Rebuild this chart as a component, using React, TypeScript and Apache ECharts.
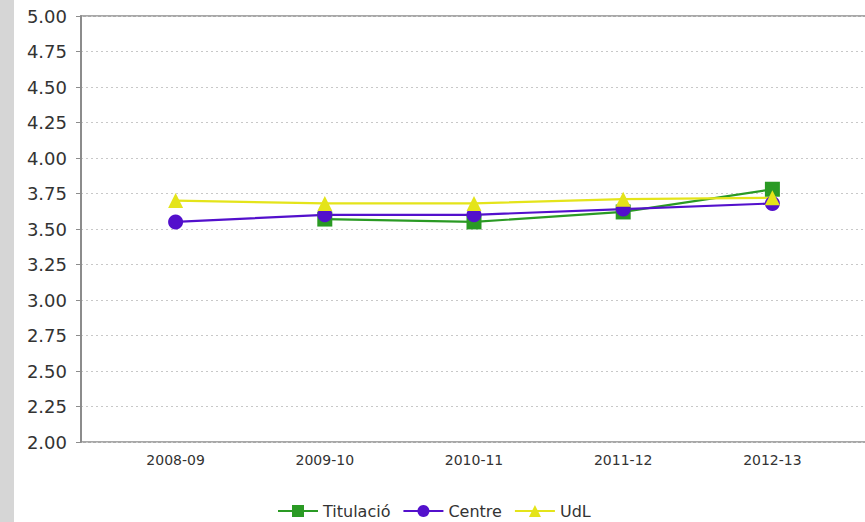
import React, { useEffect, useRef } from "react";
import * as echarts from "echarts";

const categories = ["2008-09", "2009-10", "2010-11", "2011-12", "2012-13"];
const titulacio = [null, 3.57, 3.55, 3.62, 3.78];
const centre = [3.55, 3.6, 3.6, 3.64, 3.68];
const udl = [3.7, 3.68, 3.68, 3.71, 3.72];
const yMin = 2;
const yMax = 5;
const yStep = 0.25;

const FONT = "DejaVu Sans";
const FRAME = "#8c8c8c";

export default function App() {
  const ref = useRef<HTMLDivElement>(null);

  useEffect(() => {
    if (!ref.current) return;
    const chart = echarts.init(ref.current, null, { renderer: "svg" });

    const mk = (name: string, data: (number | null)[], color: string, symbol: string, size: number) => ({
      name,
      type: "line",
      xAxisIndex: 1,
      yAxisIndex: 1,
      data,
      symbol,
      symbolSize: size,
      showAllSymbol: true,
      lineStyle: { color, width: 2.2 },
      itemStyle: { color },
    });

    chart.setOption({
      animation: false,
      backgroundColor: "#ffffff",
      graphic: [
        { type: "rect", left: 0, top: 0, shape: { width: 14, height: 522 }, style: { fill: "#d6d6d6" }, z: -1 },
      ],
      grid: [
        // plot frame and gridlines; the canvas is wider than the visible window
        {
          left: 81,
          top: 16,
          width: 830,
          height: 426,
          show: true,
          borderColor: FRAME,
          borderWidth: 1.5,
          backgroundColor: "#ffffff",
        },
        // data area holding the category bands
        { left: 101, top: 16, width: 746, height: 426 },
      ],
      xAxis: [
        { gridIndex: 0, type: "value", show: false, min: 0, max: 1 },
        {
          gridIndex: 1,
          type: "category",
          data: categories,
          boundaryGap: true,
          axisLine: { show: false },
          axisTick: { show: false },
          axisLabel: { margin: 11, fontFamily: FONT, fontSize: 14, color: "#333" },
        },
      ],
      yAxis: [
        {
          gridIndex: 0,
          type: "value",
          min: yMin,
          max: yMax,
          interval: yStep,
          axisLine: { show: true, lineStyle: { color: FRAME, width: 2 } },
          axisTick: { show: true, length: 5, lineStyle: { color: FRAME, width: 1 } },
          axisLabel: {
            margin: 14,
            fontFamily: FONT,
            fontSize: 18,
            color: "#333",
            formatter: (v: number) => v.toFixed(2),
          },
          splitLine: { show: true, lineStyle: { color: "#c8c8c8", width: 1, type: [2, 3] } },
        },
        { gridIndex: 1, type: "value", min: yMin, max: yMax, show: false },
      ],
      legend: {
        top: 498,
        left: 272,
        itemWidth: 40,
        itemHeight: 15,
        itemGap: 12,
        textStyle: { fontFamily: FONT, fontSize: 16, color: "#333" },
        data: ["Titulació", "Centre", "UdL"],
      },
      series: [
        mk("Titulació", titulacio, "#2a9a24", "rect", 15),
        mk("Centre", centre, "#5310cc", "circle", 15),
        mk("UdL", udl, "#e4e41a", "triangle", 15),
      ],
    });

    return () => chart.dispose();
  }, []);

  return (
    <div style={{ position: "fixed", left: 0, top: 0, width: 865, height: 522, overflow: "hidden" }}>
      <div ref={ref} style={{ width: 940, height: 522 }} />
    </div>
  );
}
